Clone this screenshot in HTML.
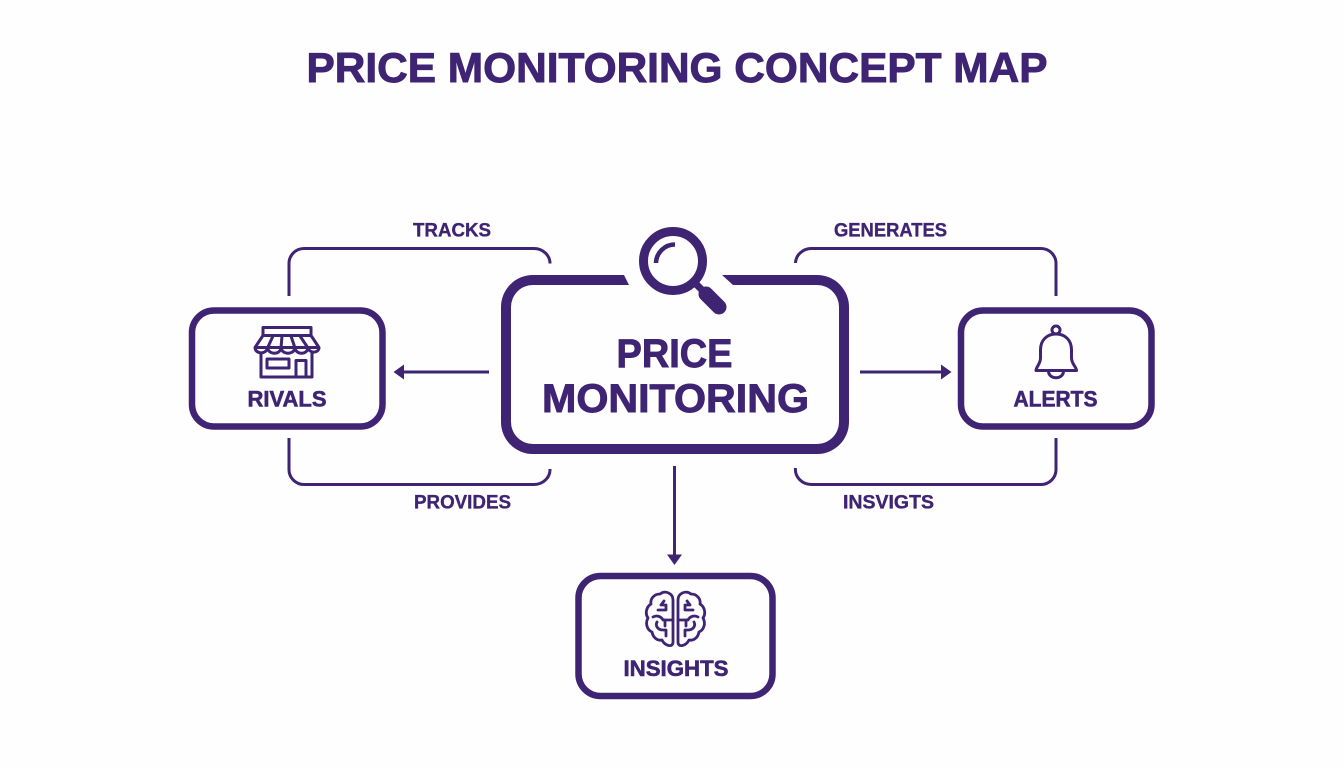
<!DOCTYPE html>
<html lang="en">
<head>
<meta charset="utf-8">
<title>Price Monitoring Concept Map</title>
<style>
html,body{margin:0;padding:0;background:#fefefe;}
svg{display:block;}
text{font-family:"Liberation Sans",sans-serif;font-weight:700;fill:#3f2474;stroke:#3f2474;}
.xl{stroke-width:.9px;}
.md{stroke-width:.6px;}
.sm{stroke-width:.35px;}
</style>
</head>
<body>
<svg width="1344" height="768" viewBox="0 0 1344 768" xmlns="http://www.w3.org/2000/svg">
<rect width="1344" height="768" fill="#fefefe"/>

<text class="xl" x="306.500" y="82" font-size="41.500" textLength="741" lengthAdjust="spacingAndGlyphs">PRICE MONITORING CONCEPT MAP</text>

<g fill="none" stroke="#3f2474" stroke-width="3">
  <path d="M289 296V264a15 15 0 0 1 15-15.500H534a16 15 0 0 1 16 15"/>
  <path d="M289 438V469a15 15 0 0 0 15 15.500H534a16 15 0 0 0 16-15.500"/>
  <path d="M795.500 263a16 15 0 0 1 16-14.500H1041a15 15 0 0 1 15 15.500V296"/>
  <path d="M795.500 468a16 15 0 0 0 16 16.500H1041a15 15 0 0 0 15-15.500V438"/>
</g>

<g fill="none" stroke="#3f2474" stroke-width="6.500">
  <rect x="192" y="310.500" width="190.500" height="116" rx="22"/>
  <rect x="961" y="310.500" width="190.500" height="116" rx="22"/>
  <rect x="578.500" y="576" width="194" height="120" rx="22"/>
</g>

<path d="M624 275H533a32 32 0 0 0-32 32V422a32 32 0 0 0 32 32H817a32 32 0 0 0 32-32V307a32 32 0 0 0-32-32H722L733 285H817a22 22 0 0 1 22 22V422a22 22 0 0 1-22 22H533a22 22 0 0 1-22-22V307a22 22 0 0 1 22-22H629Z" fill="#3f2474"/>

<circle cx="673" cy="261" r="29.500" fill="#fefefe" stroke="#3f2474" stroke-width="9"/>
<path d="M656 263a19 19 0 0 1 19-18.500" fill="none" stroke="#3f2474" stroke-width="4.500"/>
<path d="M694 282L706 294" stroke="#3f2474" stroke-width="7"/>
<path d="M706 294L719 307" stroke="#3f2474" stroke-width="15" stroke-linecap="round"/>

<text class="xl" x="616.500" y="367" font-size="40" textLength="116" lengthAdjust="spacingAndGlyphs">PRICE</text>
<text class="xl" x="542" y="412" font-size="40" textLength="267" lengthAdjust="spacingAndGlyphs">MONITORING</text>

<g stroke="#3f2474" stroke-width="3" fill="none">
  <path d="M489 372H403"/>
  <path d="M860 372H942"/>
  <path d="M674.500 466V555"/>
</g>
<g fill="#3f2474">
  <path d="M393.500 372L404 364.500V379.500Z"/>
  <path d="M951.500 372L941 364.500V379.500Z"/>
  <path d="M674.500 565L667 554.500H682Z"/>
</g>

<text class="sm" x="413" y="236.500" font-size="19" textLength="78" lengthAdjust="spacingAndGlyphs">TRACKS</text>
<text class="sm" x="834" y="236.500" font-size="19" textLength="113" lengthAdjust="spacingAndGlyphs">GENERATES</text>
<text class="sm" x="414" y="508.500" font-size="19" textLength="97" lengthAdjust="spacingAndGlyphs">PROVIDES</text>
<text class="sm" x="843" y="508.500" font-size="19" textLength="91" lengthAdjust="spacingAndGlyphs">INSVIGTS</text>

<text class="md" x="247.500" y="406.500" font-size="22" textLength="79" lengthAdjust="spacingAndGlyphs">RIVALS</text>
<text class="md" x="1013.500" y="406.500" font-size="22" textLength="84" lengthAdjust="spacingAndGlyphs">ALERTS</text>
<text class="md" x="623.500" y="676" font-size="22" textLength="105" lengthAdjust="spacingAndGlyphs">INSIGHTS</text>

<!-- store -->
<g fill="none" stroke="#3f2474" stroke-width="3" stroke-linejoin="round">
  <rect x="263" y="327.500" width="48" height="8"/>
  <path d="M263 335.500L255 347.500C255 354 266 355 267.500 348C269 355 280 355 281 348C282.500 355 293.500 355 295 348C296 355 307 355 308 348C310 354 319 353 319 347.500L311 335.500"/>
  <path d="M255 347.500H319"/>
  <path d="M273 336L267.500 348M282 336L281 348M291 336L295 348M300 336L308 348"/>
  <path d="M261 353V377H312V353"/>
  <rect x="267" y="359" width="22" height="9"/>
  <path d="M296 377V360.500H306V377"/>
</g>

<!-- bell -->
<g fill="none" stroke="#3f2474" stroke-width="3" stroke-linejoin="round">
  <circle cx="1056" cy="330" r="4"/>
  <path d="M1036 370.500C1036 367 1040.500 364 1040.500 358V350C1040.500 340 1047 334 1056 334C1065 334 1071.500 340 1071.500 350V358C1071.500 364 1076.500 367 1076.500 370.500Z"/>
  <path d="M1048.500 371C1048.500 380 1063.500 380 1063.500 371"/>
</g>

<!-- brain -->
<g fill="none" stroke="#3f2474" stroke-width="2.800" stroke-linejoin="round" stroke-linecap="round">
  <path d="M673 600C673 593 665 590 660 594C654 594 650 599 651 604C646 607 645 614 648 618C645 623 647 630 652 632C653 638 658 641 662 640C665 646 673 648 673 642Z"/>
  <path d="M664 601L661 605H666V610H658"/>
  <path d="M673 620H663C661 616 656 615 653 617M657 622C655 626 658 630 663 630H666V636"/>
  <path d="M665 620V626"/>
</g>
<g fill="none" stroke="#3f2474" stroke-width="2.800" stroke-linejoin="round" stroke-linecap="round" transform="translate(1351 0) scale(-1 1)">
  <path d="M673 600C673 593 665 590 660 594C654 594 650 599 651 604C646 607 645 614 648 618C645 623 647 630 652 632C653 638 658 641 662 640C665 646 673 648 673 642Z"/>
  <path d="M664 601L661 605H666V610H658"/>
  <path d="M673 620H663C661 616 656 615 653 617M657 622C655 626 658 630 663 630H666V636"/>
  <path d="M665 620V626"/>
</g>
</svg>
</body>
</html>
